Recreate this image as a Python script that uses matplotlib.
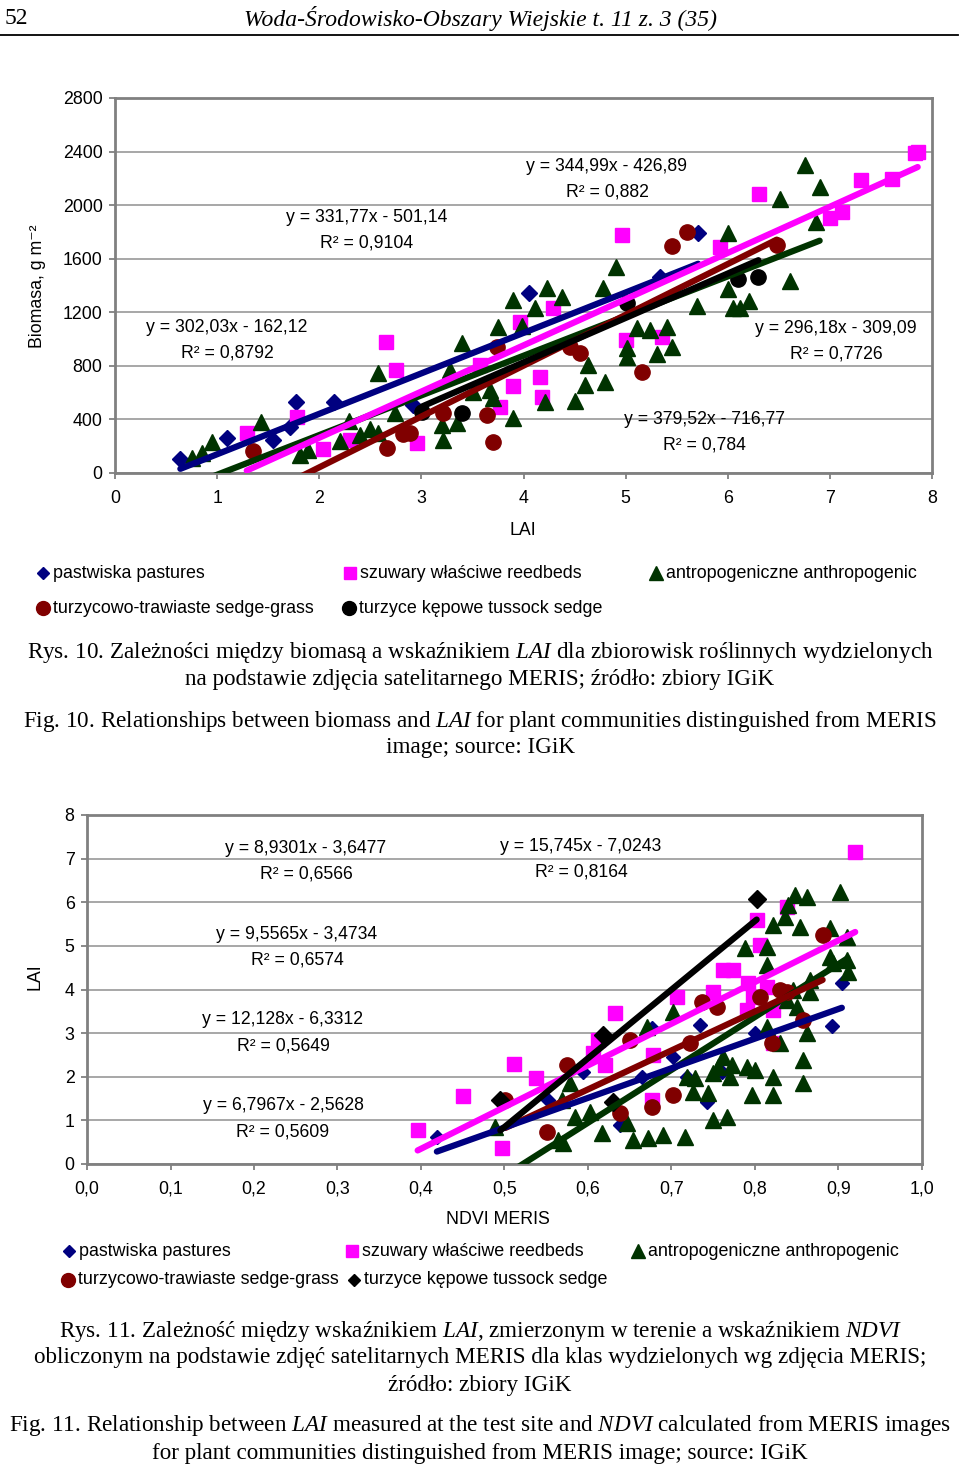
import matplotlib
matplotlib.use("Agg")
import matplotlib.pyplot as plt
import numpy as np

plt.rcParams['font.family'] = ['Liberation Sans', 'DejaVu Sans']
plt.rcParams['mathtext.fontset'] = 'custom'
plt.rcParams['mathtext.rm'] = 'Liberation Serif'
plt.rcParams['mathtext.it'] = 'Liberation Serif:italic'

# ---------------- Rys. 10 data: LAI vs biomass ----------------
past_lai = [0.64, 1.10, 1.55, 1.71, 1.77, 2.14, 2.92, 4.05, 5.34, 5.71]
past_bio = [105, 261, 246, 343, 530, 530, 508, 1344, 1464, 1792]

reed_lai = [1.29, 1.78, 2.04, 2.30, 2.65, 2.75, 2.96, 3.57, 3.77, 3.90, 3.97, 4.16, 4.18,
            4.29, 4.96, 5.00, 5.36, 5.92, 6.31, 7.00, 7.12, 7.30, 7.61, 7.83, 7.86]
reed_bio = [299, 418, 179, 246, 978, 769, 224, 806, 493, 650, 1127, 717, 567,
            1232, 1777, 993, 1015, 1687, 2083, 1904, 1949, 2188, 2195, 2389, 2397]

anth_lai = [0.75, 0.85, 0.95, 1.43, 1.81, 1.89, 2.20, 2.29, 2.40, 2.50, 2.58, 2.58, 2.74,
            3.21, 3.20, 3.35, 3.28, 3.40, 3.51, 3.67, 3.70, 3.75, 3.90, 3.90, 3.99, 4.11,
            4.23, 4.38, 4.21, 4.50, 4.60, 4.63, 4.80, 4.78, 4.91, 5.01, 5.01, 5.11, 5.24,
            5.31, 5.41, 5.45, 5.70, 6.00, 6.00, 6.05, 6.12, 6.21, 6.51, 6.61, 6.76, 6.86, 6.90]
anth_bio = [112, 149, 231, 381, 134, 172, 239, 388, 284, 329, 299, 747, 448,
            246, 358, 373, 769, 971, 605, 620, 560, 1090, 1292, 411, 1098, 1232,
            1381, 1314, 530, 538, 657, 806, 679, 1381, 1538, 933, 866, 1083, 1068,
            889, 1090, 941, 1247, 1792, 1374, 1232, 1232, 1284, 2046, 1434, 2300, 1874, 2135]

sedge_lai = [1.35, 2.66, 2.82, 2.89, 3.21, 3.64, 3.70, 3.74, 4.46, 4.55, 5.16, 5.45, 5.60, 6.48]
sedge_bio = [164, 187, 291, 299, 448, 433, 231, 941, 941, 896, 754, 1695, 1800, 1702]

tuss_lai = [3.01, 3.40, 5.01, 6.10, 6.30]
tuss_bio = [455, 448, 1269, 1449, 1463]

fit10 = [(302.03, -162.12), (344.99, -426.89), (296.18, -309.09), (379.52, -716.77), (331.77, -501.14)]
eq10 = [("y = 302,03x - 162,12", "R² = 0,8792"),
        ("y = 344,99x - 426,89", "R² = 0,882"),
        ("y = 296,18x - 309,09", "R² = 0,7726"),
        ("y = 379,52x - 716,77", "R² = 0,784"),
        ("y = 331,77x - 501,14", "R² = 0,9104")]

# ---------------- Rys. 11 data: NDVI vs LAI ----------------
past_ndvi = [0.419, 0.552, 0.594, 0.638, 0.665, 0.677, 0.702, 0.719, 0.734, 0.743, 0.761, 0.800, 0.892, 0.904]
past_lai2 = [0.62, 1.47, 2.11, 0.89, 1.99, 3.12, 2.45, 1.99, 3.19, 1.42, 2.11, 3.00, 3.16, 4.15]

reed_ndvi = [0.396, 0.450, 0.497, 0.511, 0.538, 0.606, 0.612, 0.620, 0.632, 0.678, 0.677, 0.707, 0.750,
             0.762, 0.774, 0.792, 0.798, 0.790, 0.814, 0.822, 0.822, 0.802, 0.806, 0.838, 0.920]
reed_lai2 = [0.78, 1.56, 0.37, 2.29, 1.97, 2.54, 2.84, 2.27, 3.46, 2.50, 1.47, 3.83, 3.94,
             4.45, 4.45, 4.15, 3.83, 3.53, 4.06, 3.53, 2.77, 5.59, 5.02, 5.89, 7.15]

anth_ndvi = [0.489, 0.564, 0.569, 0.570, 0.578, 0.584, 0.602, 0.617, 0.647, 0.654, 0.672, 0.671, 0.690,
             0.716, 0.702, 0.719, 0.726, 0.728, 0.744, 0.750, 0.766, 0.750, 0.756, 0.762, 0.770, 0.772,
             0.790, 0.796, 0.800, 0.822, 0.822, 0.857, 0.857, 0.814, 0.830, 0.862, 0.788, 0.814, 0.814,
             0.822, 0.836, 0.840, 0.848, 0.862, 0.854, 0.902, 0.890, 0.910, 0.890, 0.910, 0.911, 0.893,
             0.866, 0.846, 0.838, 0.850, 0.866]
anth_lai2 = [0.85, 0.55, 1.47, 0.48, 1.86, 1.08, 1.19, 0.71, 0.94, 0.55, 0.60, 3.14, 0.66,
             0.62, 3.48, 1.99, 1.65, 1.97, 1.63, 1.01, 1.08, 2.09, 2.22, 2.45, 1.99, 2.27,
             2.22, 1.58, 2.15, 1.99, 1.58, 2.38, 1.86, 3.14, 2.77, 3.00, 4.95, 4.97, 4.56,
             5.48, 5.66, 5.94, 6.17, 6.12, 5.43, 6.23, 5.41, 5.20, 4.75, 4.68, 4.40, 4.61,
             4.22, 3.99, 3.76, 3.60, 3.94]

sedge_ndvi = [0.501, 0.551, 0.575, 0.638, 0.650, 0.677, 0.702, 0.722, 0.737, 0.755, 0.806, 0.820, 0.830,
              0.838, 0.857, 0.881]
sedge_lai2 = [1.47, 0.73, 2.27, 1.17, 2.84, 1.31, 1.58, 2.77, 3.71, 3.60, 3.83, 2.77, 3.99,
              3.94, 3.30, 5.25]

tuss_ndvi = [0.495, 0.618, 0.630, 0.802]
tuss_lai2 = [1.47, 2.96, 1.42, 6.07]

fit11 = [(6.7967, -2.5628), (9.5565, -3.4734), (12.128, -6.3312), (8.9301, -3.6477), (15.745, -7.0243)]
eq11 = [("y = 6,7967x - 2,5628", "R² = 0,5609"),
        ("y = 9,5565x - 3,4734", "R² = 0,6574"),
        ("y = 12,128x - 6,3312", "R² = 0,5649"),
        ("y = 8,9301x - 3,6477", "R² = 0,6566"),
        ("y = 15,745x - 7,0243", "R² = 0,8164")]

labels = ["pastwiska pastures", "szuwary właściwe reedbeds", "antropogeniczne anthropogenic",
          "turzycowo-trawiaste sedge-grass", "turzyce kępowe tussock sedge"]

NAVY, MAG, DGREEN, DRED, BLK = '#000080', '#ff00ff', '#003300', '#800000', '#000000'
colors = [NAVY, MAG, DGREEN, DRED, BLK]
GRID = '#a0a0a0'
FRAME = '#808080'

fig = plt.figure(figsize=(9.6, 14.7), dpi=100)

# page layer in pixel coordinates (under the charts)
page = fig.add_axes([0, 0, 1, 1], zorder=0)
page.set_xlim(0, 960)
page.set_ylim(1470, 0)
page.axis('off')


def style_axes(ax):
    ax.set_facecolor('white')
    for s in ax.spines.values():
        s.set_color(FRAME)
        s.set_linewidth(2)
    ax.yaxis.grid(True, color=GRID, lw=1.3)
    ax.set_axisbelow(True)
    ax.tick_params(direction='out', length=4, width=1.3, color=FRAME,
                   labelsize=12.8, labelcolor='black')
    ax.tick_params(axis='x', pad=8)
    ax.tick_params(axis='y', pad=5)


def draw_series(ax, xs, ys, markers, sizes, fits):
    for x, y, m, ms, c in zip(xs, ys, markers, sizes, colors):
        ax.plot(x, y, ls='none', marker=m, ms=ms, color=c, mec=c, zorder=3)
    for i in [2, 3, 0, 1, 4]:
        a, b = fits[i]
        xx = np.array([min(xs[i]), max(xs[i])])
        ax.plot(xx, a * xx + b, color=colors[i], lw=4.5, solid_capstyle='round', zorder=4)


# ---------------- Chart 1 ----------------
ax1 = fig.add_axes([115 / 960, 1 - 473 / 1470, 817 / 960, 375 / 1470], zorder=2)
style_axes(ax1)
ax1.set_xlim(0, 8)
ax1.set_ylim(0, 2800)
ax1.set_xticks(range(0, 9))
ax1.set_yticks(range(0, 2801, 400))
draw_series(ax1,
            [past_lai, reed_lai, anth_lai, sedge_lai, tuss_lai],
            [past_bio, reed_bio, anth_bio, sedge_bio, tuss_bio],
            ['D', 's', '^', 'o', 'o'], [8.5, 10, 11, 11, 11], fit10)

# ---------------- Chart 2 ----------------
ax2 = fig.add_axes([87 / 960, 1 - 1164 / 1470, 835 / 960, 349 / 1470], zorder=2)
style_axes(ax2)
ax2.set_xlim(0, 1)
ax2.set_ylim(0, 8)
xt = np.round(np.arange(0, 1.01, 0.1), 1)
ax2.set_xticks(xt)
ax2.set_xticklabels([f"{v:.1f}".replace('.', ',') for v in xt])
ax2.set_yticks(range(0, 9))
draw_series(ax2,
            [past_ndvi, reed_ndvi, anth_ndvi, sedge_ndvi, tuss_ndvi],
            [past_lai2, reed_lai2, anth_lai2, sedge_lai2, tuss_lai2],
            ['D', 's', '^', 'o', 'D'], [7.5, 10, 11, 11, 9.5], fit11)

# overlay layer for the trendline equations (above the charts)
over = fig.add_axes([0, 0, 1, 1], zorder=5)
over.set_xlim(0, 960)
over.set_ylim(1470, 0)
over.axis('off')
over.patch.set_alpha(0)

eq_pos1 = [(227, 327), (607, 166), (836, 328), (704, 419), (367, 217)]
for (l1, l2), (px, py) in zip(eq10, eq_pos1):
    over.text(px, py, l1, ha='center', va='center', fontsize=12.7)
    over.text(px, py + 26, l2, ha='center', va='center', fontsize=12.7)

eq_pos2 = [(283, 1106), (297, 934), (283, 1020), (306, 848), (581, 846)]
for (l1, l2), (px, py) in zip(eq11, eq_pos2):
    over.text(px, py, l1, ha='center', va='center', fontsize=12.7)
    over.text(px, py + 26, l2, ha='center', va='center', fontsize=12.7)

page.text(37, 286, 'Biomasa, g m⁻²', rotation=90, ha='center', va='center', fontsize=12.8)
page.text(523, 530, 'LAI', ha='center', va='center', fontsize=12.8)
page.text(35, 977, 'LAI', rotation=90, ha='center', va='center', fontsize=12.8)
page.text(498, 1219, 'NDVI MERIS', ha='center', va='center', fontsize=12.8)

# ---------------- legends ----------------
leg1 = [(43, 573, 'D', 6), (350, 573, 's', 9), (656, 573, '^', 10), (43, 608, 'o', 10), (349, 608, 'o', 10)]
for (px, py, m, ms), lab, c in zip(leg1, labels, colors):
    page.plot(px, py, marker=m, ms=ms, color=c, ls='none')
    page.text(px + 10, py, lab, ha='left', va='center', fontsize=12.9)

leg2 = [(69, 1251, 'D', 6), (352, 1251, 's', 9), (638, 1251, '^', 10), (68, 1280, 'o', 10), (354, 1280, 'D', 6.5)]
for (px, py, m, ms), lab, c in zip(leg2, labels, colors):
    page.plot(px, py, marker=m, ms=ms, color=c, ls='none')
    page.text(px + 10, py, lab, ha='left', va='center', fontsize=12.9)

# ---------------- header and captions ----------------
serif = 'Liberation Serif'
page.text(5, 18, '52', ha='left', va='center', fontsize=17, family=serif)
page.text(480, 18, 'Woda-Środowisko-Obszary Wiejskie t. 11 z. 3 (35)', ha='center', va='center',
          fontsize=17, family=serif, style='italic')
page.plot([0, 958], [35, 35], color='black', lw=1.3)

captions = [
    (652, r'Rys. 10. Zależności między biomasą a wskaźnikiem $\mathit{LAI}$ dla zbiorowisk roślinnych wydzielonych'),
    (679, 'na podstawie zdjęcia satelitarnego MERIS; źródło: zbiory IGiK'),
    (721, r'Fig. 10. Relationships between biomass and $\mathit{LAI}$ for plant communities distinguished from MERIS'),
    (747, 'image; source: IGiK'),
    (1331, r'Rys. 11. Zależność między wskaźnikiem $\mathit{LAI}$, zmierzonym w terenie a wskaźnikiem $\mathit{NDVI}$'),
    (1358, 'obliczonym na podstawie zdjęć satelitarnych MERIS dla klas wydzielonych wg zdjęcia MERIS;'),
    (1385, 'źródło: zbiory IGiK'),
    (1426, r'Fig. 11. Relationship between $\mathit{LAI}$ measured at the test site and $\mathit{NDVI}$ calculated from MERIS images'),
    (1453, 'for plant communities distinguished from MERIS image; source: IGiK'),
]
for py, txt in captions:
    page.text(480, py, txt, ha='center', va='center', fontsize=16.7, family=serif)

fig.savefig('out.png', dpi=100, facecolor='white')
